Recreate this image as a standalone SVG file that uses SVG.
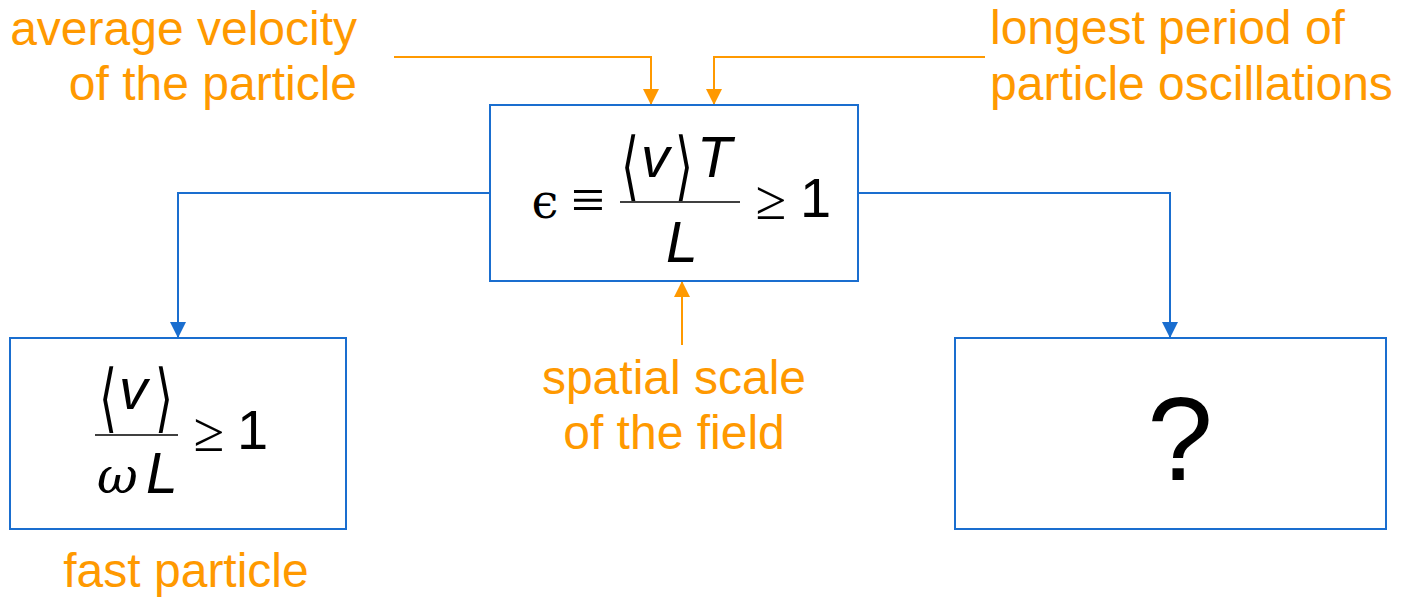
<svg xmlns="http://www.w3.org/2000/svg" width="1402" height="599" viewBox="0 0 1402 599">
<defs>
<style>
.box{fill:#fff;stroke:#1a6ecf;stroke-width:2}
.lbl{font-family:"Liberation Sans",Arial,sans-serif;font-size:48px;fill:#ff9900}
.oc{fill:none;stroke:#ff9900;stroke-width:2}
.bc{fill:none;stroke:#1a6ecf;stroke-width:2}
.mi{font-family:"Liberation Sans",Arial,sans-serif;font-style:italic;font-size:57px;fill:#000}
.mn{font-family:"Liberation Sans",Arial,sans-serif;fill:#000}
.sym{font-family:"Liberation Serif","DejaVu Serif",serif;fill:#000}
.br{font-family:"DejaVu Sans",sans-serif;font-size:44px;fill:#000}
.ser{font-family:"DejaVu Serif","Liberation Serif",serif;fill:#000}
</style>
<marker id="ao" viewBox="0 0 16 16" refX="16" refY="8" markerWidth="16" markerHeight="16" markerUnits="userSpaceOnUse" orient="auto"><path d="M0,0 L16,8 L0,16 z" fill="#ff9900"/></marker>
<marker id="ab" viewBox="0 0 16 16" refX="16" refY="8" markerWidth="16" markerHeight="16" markerUnits="userSpaceOnUse" orient="auto"><path d="M0,0 L16,8 L0,16 z" fill="#1a6ecf"/></marker>
</defs>
<rect width="1402" height="599" fill="#fff"/>
<g id="connectors">
<path class="oc" d="M394,57 H651 V105" marker-end="url(#ao)"/>
<path class="oc" d="M985,57 H714 V105" marker-end="url(#ao)"/>
<path class="oc" d="M682,345 V281" marker-end="url(#ao)"/>
<path class="bc" d="M490,193 H178 V338" marker-end="url(#ab)"/>
<path class="bc" d="M858,193 H1170 V338" marker-end="url(#ab)"/>
</g>
<g id="center">
<rect class="box" x="490" y="105" width="368" height="176"/>
<text class="ser" x="545" y="218" font-size="48" text-anchor="middle">ϵ</text>
<text class="sym" x="588" y="220" font-size="60" text-anchor="middle">≡</text>
<text class="br" transform="translate(630,191) scale(1.05,1.7)" text-anchor="middle">⟨</text>
<text class="mi" x="641" y="177">v</text>
<text class="br" transform="translate(684,191) scale(1.05,1.7)" text-anchor="middle">⟩</text>
<text class="mi" x="697" y="177">T</text>
<line x1="620" y1="202" x2="740" y2="202" stroke="#000" stroke-width="1.5"/>
<text class="mi" x="666" y="262">L</text>
<text class="sym" x="771" y="219" font-size="56" text-anchor="middle">≥</text>
<text class="mn" x="800" y="217" font-size="56">1</text>
</g>
<g id="left">
<rect class="box" x="10" y="338" width="336" height="191"/>
<text class="br" transform="translate(108,423) scale(1.05,1.7)" text-anchor="middle">⟨</text>
<text class="mi" x="119" y="409">v</text>
<text class="br" transform="translate(164,423) scale(1.05,1.7)" text-anchor="middle">⟩</text>
<line x1="95" y1="435" x2="178" y2="435" stroke="#000" stroke-width="1.5"/>
<text class="ser" x="97" y="493" font-size="50" font-style="italic">ω</text>
<text class="mi" x="146" y="493">L</text>
<text class="sym" x="209" y="451" font-size="56" text-anchor="middle">≥</text>
<text class="mn" x="237" y="449" font-size="56">1</text>
</g>
<g id="right">
<rect class="box" x="955" y="338" width="431" height="191"/>
<text class="mn" x="1180" y="480" font-size="118" text-anchor="middle">?</text>
</g>
<g id="labels">
<text class="lbl" x="357" y="45" text-anchor="end">average velocity</text>
<text class="lbl" x="357" y="100" text-anchor="end">of the particle</text>
<text class="lbl" x="990" y="44">longest period of</text>
<text class="lbl" x="990" y="100">particle oscillations</text>
<text class="lbl" x="674" y="394" text-anchor="middle">spatial scale</text>
<text class="lbl" x="674" y="449" text-anchor="middle">of the field</text>
<text class="lbl" x="186" y="587" text-anchor="middle">fast particle</text>
</g>
</svg>
